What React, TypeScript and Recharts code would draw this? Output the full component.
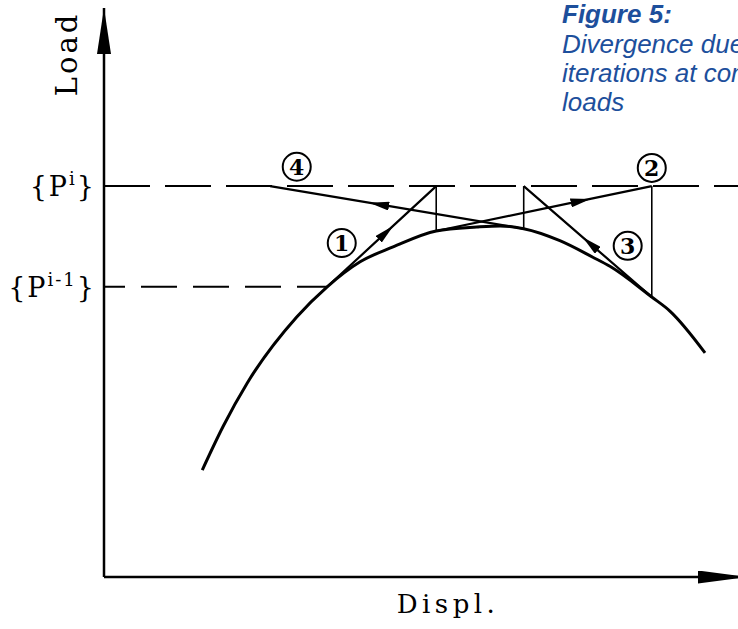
import { LineChart, Line, XAxis, YAxis, ReferenceLine, ReferenceDot, Customized } from 'recharts';

// equilibrium path (load vs displacement)
const curveDispl = [15.5, 18.8, 22.6, 30.4, 35.2, 40.4, 45.6, 52.4, 58.8, 62.5, 66.2, 71.9, 77.1, 79.8, 86.4, 89.3, 94.8];
const curveLoad = [18.8, 26.5, 34.1, 45.7, 51.0, 55.4, 58.0, 60.8, 61.5, 61.7, 61.2, 59.1, 56.2, 54.6, 49.2, 46.7, 39.4];

// load levels {P^(i-1)} and {P^i}
const loadLevels = [51.0, 68.7];
const levelSup = ['i-1', 'i'];

// newton iterations: start on the curve, end on the {P^i} level
const iterFromDispl = [35.2, 52.4, 86.4, 66.2];
const iterFromLoad = [51.0, 60.8, 49.2, 61.2];
const iterToDispl = [52.4, 86.4, 66.2, 26.2];

const stepLabels = ['1', '2', '3', '4'];
const stepLabelDispl = [37.5, 86.4, 82.6, 30.4];
const stepLabelLoad = [58.7, 71.9, 58.2, 72.1];

const captionTitle = 'Figure 5:';
const captionLines = ['Divergence due to', 'iterations at constant', 'loads'];

const P_I = loadLevels[1];
const ARROW_AT = [0.54, 0.67, 0.48, 0.57];
const SERIF = '"DejaVu Serif", serif';

const curveData = curveDispl.map((x, i) => ({ x, y: curveLoad[i] }));
const steps = iterFromDispl.map((x, i) => ({
  from: { x, y: iterFromLoad[i] },
  to: { x: iterToDispl[i], y: P_I },
}));

const LevelTick = ({ x, y, payload }: any) => {
  const sup = levelSup[loadLevels.indexOf(payload.value)];
  return (
    <text x={x} y={y} dy={10} textAnchor="end" fontFamily={SERIF} fontSize={27} letterSpacing={2} fill="#000">
      {'{P'}
      <tspan dy={-11} fontSize={18}>{sup}</tspan>
      <tspan dy={11} fontSize={27}>{'}'}</tspan>
    </text>
  );
};

const LoadLabel = ({ viewBox }: any) => {
  const cx = viewBox.x + 67;
  const cy = viewBox.y + 46;
  return (
    <text x={cx} y={cy} transform={`rotate(-90 ${cx} ${cy})`} textAnchor="middle" dominantBaseline="central"
      fontFamily={SERIF} fontSize={29} letterSpacing={3} fill="#000">
      Load
    </text>
  );
};

const DisplLabel = ({ viewBox }: any) => (
  <text x={viewBox.x + 344} y={viewBox.y + 36} textAnchor="middle" fontFamily={SERIF} fontSize={26} letterSpacing={4.5} fill="#000">
    Displ.
  </text>
);

const Caption = () => (
  <g fontFamily='"Liberation Sans", Arial, sans-serif' fontStyle="italic" fill="#1d4f9c" fontSize={26}>
    <text x={562} y={23} fontWeight="bold">{captionTitle}</text>
    {captionLines.map((t, i) => (
      <text key={t} x={562} y={53 + i * 29}>{t}</text>
    ))}
  </g>
);

export default function App() {
  return (
    <div style={{ position: 'absolute', left: 0, top: 0, width: 738, height: 629, overflow: 'hidden', background: '#fff' }}>
      <svg width={0} height={0} style={{ position: 'absolute' }}>
        <defs>
          <marker id="midArrow" viewBox="0 0 20 9" refX={10} refY={4.5} markerWidth={20} markerHeight={9}
            markerUnits="userSpaceOnUse" orient="auto">
            <path d="M0,0 L20,4.5 L0,9 Z" fill="#000" />
          </marker>
          <marker id="yArrow" viewBox="0 0 46 14" refX={46} refY={7} markerWidth={46} markerHeight={14}
            markerUnits="userSpaceOnUse" orient="auto-start-reverse">
            <path d="M0,0 L46,7 L0,14 Z" fill="#000" />
          </marker>
          <marker id="xArrow" viewBox="0 0 50 13" refX={40} refY={6.5} markerWidth={50} markerHeight={13}
            markerUnits="userSpaceOnUse" orient="auto">
            <path d="M0,0 L50,6.5 L0,13 Z" fill="#000" />
          </marker>
        </defs>
      </svg>
      <LineChart width={738} height={629} margin={{ top: 8, right: 0, bottom: 0, left: 0 }}>
        <XAxis type="number" dataKey="x" domain={[0, 100]} height={52} tick={false} tickLine={false}
          axisLine={{ stroke: '#000', strokeWidth: 2.5, markerEnd: 'url(#xArrow)' }} label={<DisplLabel />} />
        <YAxis type="number" domain={[0, 100]} width={104} ticks={loadLevels} interval={0} tick={<LevelTick />}
          tickLine={false} tickSize={0} tickMargin={8}
          axisLine={{ stroke: '#000', strokeWidth: 2.5, markerStart: 'url(#yArrow)' }} label={<LoadLabel />} />
        <ReferenceLine y={P_I} stroke="#000" strokeWidth={2} strokeDasharray="46 15" />
        <ReferenceLine segment={[{ x: 0, y: loadLevels[0] }, { x: curveDispl[4], y: loadLevels[0] }]}
          stroke="#000" strokeWidth={2} strokeDasharray="36 16" strokeDashoffset={15} />
        <Line data={curveData} dataKey="y" type="monotone" stroke="#000" strokeWidth={3} dot={false}
          activeDot={false} isAnimationActive={false} />
        {steps.map((s, i) => {
          const t = ARROW_AT[i];
          const mid = { x: s.from.x + t * (s.to.x - s.from.x), y: s.from.y + t * (s.to.y - s.from.y) };
          return (
            <Line key={`step${i}`} data={[s.from, mid, s.to]} dataKey="y" type="linear" stroke="#000" strokeWidth={2.2}
              dot={false} activeDot={false} isAnimationActive={false} markerMid="url(#midArrow)" />
          );
        })}
        {steps.slice(0, 3).map((s, i) => (
          <Line key={`corr${i}`} data={[s.to, steps[i + 1].from]} dataKey="y" type="linear" stroke="#000"
            strokeWidth={1.6} dot={false} activeDot={false} isAnimationActive={false} />
        ))}
        {stepLabels.map((lab, i) => (
          <ReferenceDot key={lab} x={stepLabelDispl[i]} y={stepLabelLoad[i]} r={14} fill="#fff" stroke="#000"
            strokeWidth={2} label={{ value: lab, position: 'center', fontFamily: SERIF, fontSize: 22, fontWeight: 'bold', fill: '#000' }} />
        ))}
        <Customized component={Caption} />
      </LineChart>
    </div>
  );
}
